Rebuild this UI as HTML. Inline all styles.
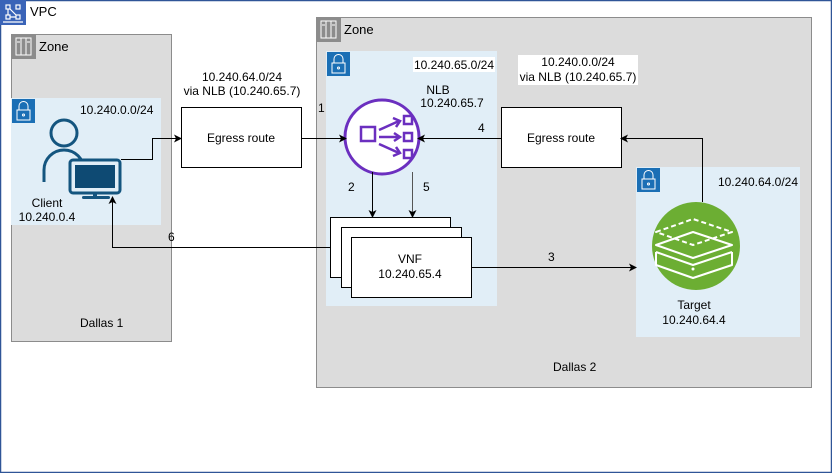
<!DOCTYPE html>
<html><head><meta charset="utf-8"><style>
html,body{margin:0;padding:0;background:#fff}
svg{display:block;font-family:"Liberation Sans",Arial,sans-serif;font-size:12px}
</style></head><body>
<svg width="832" height="473" viewBox="0 0 832 473" xmlns="http://www.w3.org/2000/svg">
<defs>
<marker id="a" markerWidth="8" markerHeight="8" refX="7" refY="4" orient="auto" markerUnits="userSpaceOnUse">
<path d="M0,0 L8,4 L0,8 L2,4 Z" fill="#000"/></marker>
</defs>
<rect x="0.5" y="0.5" width="831" height="472" fill="#fff" stroke="#2f5597" stroke-width="1.5"/>
<rect x="0" y="0" width="26" height="25" fill="#3a64b8"/>
<g stroke="#fff" stroke-width="1.2" fill="none"><rect x="6" y="5" width="4" height="4"/><rect x="16" y="5" width="4" height="4"/><rect x="6" y="15" width="4" height="4"/><rect x="16" y="15" width="4" height="4"/><path d="M10,9 L16,15 M8,9 V15 M10,17 H16"/><path d="M3,22 H23"/></g>
<text x="30" y="16" font-size="13">VPC</text>

<!-- Zone 1 -->
<rect x="11.5" y="34.5" width="160" height="307" fill="#dcdcdc" stroke="#8c8c8c"/>
<rect x="11" y="34" width="25" height="25" fill="#8c8c8c"/>
<g stroke="#fff" stroke-width="1" fill="none"><rect x="16" y="38" width="15" height="17"/><path d="M21,38 V55 M26,38 V55 M17,42 H20 M27,42 H30"/></g>
<text x="39" y="51" font-size="13">Zone</text>
<rect x="11" y="98" width="150" height="127" fill="#e1eef7"/>
<rect x="12" y="99" width="23" height="24" fill="#1b6fb5"/>
<g stroke="#fff" stroke-width="1" fill="none"><rect x="17" y="110" width="13" height="10"/><path d="M19,110 V106 a4.5,4.5 0 0 1 9,0 V110"/><circle cx="23.5" cy="115" r="1"/></g>
<text x="80" y="114">10.240.0.0/24</text>
<!-- client icon -->
<g fill="none" stroke="#14557f" stroke-width="3">
<circle cx="64" cy="133" r="13"/>
<path d="M44,182 V170 a20,20 0 0 1 40,0"/>
</g>
<rect x="70" y="160" width="50" height="33" rx="3" fill="#e1eef7" stroke="#14557f" stroke-width="3"/>
<rect x="75" y="165" width="40" height="23" fill="#0e4a73"/>
<rect x="93" y="193" width="4" height="4" fill="#14557f"/>
<rect x="82" y="196" width="28" height="3" rx="1.5" fill="#14557f"/>
<text x="47" y="207" text-anchor="middle">Client</text>
<text x="47" y="221" text-anchor="middle">10.240.0.4</text>
<text x="80" y="327">Dallas 1</text>

<!-- Zone 2 -->
<rect x="316.5" y="17.5" width="495" height="370" fill="#dcdcdc" stroke="#8c8c8c"/>
<rect x="316" y="17" width="25" height="25" fill="#8c8c8c"/>
<g stroke="#fff" stroke-width="1" fill="none"><rect x="321" y="21" width="15" height="17"/><path d="M326,21 V38 M331,21 V38 M322,25 H325 M332,25 H335"/></g>
<text x="344" y="34" font-size="13">Zone</text>
<text x="553" y="371">Dallas 2</text>

<!-- subnet NLB -->
<rect x="326" y="51" width="171" height="255" fill="#e1eef7"/>
<rect x="327" y="52" width="23" height="24" fill="#1b6fb5"/>
<g stroke="#fff" stroke-width="1" fill="none"><rect x="332" y="63" width="13" height="10"/><path d="M334,63 V59 a4.5,4.5 0 0 1 9,0 V63"/><circle cx="338.5" cy="68" r="1"/></g>
<rect x="413" y="57" width="82" height="15" fill="#fff"/>
<text x="454" y="69" text-anchor="middle">10.240.65.0/24</text>
<text x="438" y="94" text-anchor="middle">NLB</text>
<text x="452" y="107" text-anchor="middle">10.240.65.7</text>
<circle cx="382" cy="137" r="37" fill="#fff" stroke="#6b2fbf" stroke-width="3"/>
<g stroke="#6b2fbf" stroke-width="2.5" fill="none">
<rect x="361" y="127" width="14" height="14"/>
<rect x="404" y="116" width="8" height="8"/><rect x="404" y="133" width="8" height="8"/><rect x="404" y="150" width="8" height="8"/>
<path d="M379,130 L399,121 M379,137 H399 M379,144 L399,153"/>
<path d="M393,118 L400,121 L396,127 M394,133 L400,137 L394,141 M396,147 L400,153 L393,156"/>
</g>
<!-- VNF -->
<rect x="330.5" y="217.5" width="120" height="60" fill="#fff" stroke="#000"/>
<rect x="341.5" y="227.5" width="120" height="60" fill="#fff" stroke="#000"/>
<rect x="351.5" y="237.5" width="120" height="60" fill="#fff" stroke="#000"/>
<text x="410" y="263" text-anchor="middle">VNF</text>
<text x="410" y="278" text-anchor="middle">10.240.65.4</text>

<!-- subnet target -->
<rect x="636" y="167" width="164" height="170" fill="#e1eef7"/>
<rect x="637" y="168" width="23" height="24" fill="#1b6fb5"/>
<g stroke="#fff" stroke-width="1" fill="none"><rect x="642" y="179" width="13" height="10"/><path d="M644,179 V175 a4.5,4.5 0 0 1 9,0 V179"/><circle cx="648.5" cy="184" r="1"/></g>
<text x="758" y="186" text-anchor="middle">10.240.64.0/24</text>
<circle cx="696" cy="246" r="44" fill="#6cae33"/>
<g stroke="#fff" stroke-width="2" fill="none" stroke-linejoin="round">
<path d="M656,232 L693,219 L732,232 L693,245 Z" stroke-dasharray="5,3"/>
<path d="M656,245 L693,232 L732,245 L693,258 Z"/>
<path d="M656,252 V265 L693,278 L732,265 V252"/>
<path d="M656,252 L693,265 L732,252"/>
</g>
<circle cx="693" cy="269" r="1.5" fill="#fff"/>
<text x="694" y="309" text-anchor="middle">Target</text>
<text x="694" y="324" text-anchor="middle">10.240.64.4</text>

<!-- egress boxes -->
<rect x="181.5" y="107.5" width="120" height="60" fill="#fff" stroke="#000"/>
<text x="241" y="142" text-anchor="middle">Egress route</text>
<rect x="501.5" y="107.5" width="120" height="60" fill="#fff" stroke="#000"/>
<text x="561" y="142" text-anchor="middle">Egress route</text>
<rect x="197" y="69" width="103" height="30" fill="#fff" opacity="0.7"/>
<text x="242" y="81" text-anchor="middle">10.240.64.0/24</text>
<text x="242" y="95" text-anchor="middle">via NLB (10.240.65.7)</text>
<rect x="518" y="55" width="120" height="30" fill="#fff"/>
<text x="578" y="66" text-anchor="middle">10.240.0.0/24</text>
<text x="578" y="81" text-anchor="middle">via NLB (10.240.65.7)</text>

<!-- connectors -->
<g stroke="#000" stroke-width="1" fill="none">
<path d="M121,159.5 H152.5 V138.5 H181" marker-end="url(#a)"/>
<path d="M301,138.5 H346" marker-end="url(#a)"/>
<path d="M501,138.5 H418" marker-end="url(#a)"/>
<path d="M702.5,202 V138.5 H621" marker-end="url(#a)"/>
<path d="M372.5,172 V217" marker-end="url(#a)"/>
<path d="M412.5,172 V217" stroke="#555" marker-end="url(#a)"/>
<path d="M471,267.5 H636" marker-end="url(#a)"/>
<path d="M330,247.5 H112.5 V197" marker-end="url(#a)"/>
</g>
<text x="318" y="112">1</text>
<text x="348" y="191">2</text>
<text x="423" y="191">5</text>
<text x="478" y="132">4</text>
<text x="548" y="261">3</text>
<text x="168" y="241">6</text>
</svg>
</body></html>
